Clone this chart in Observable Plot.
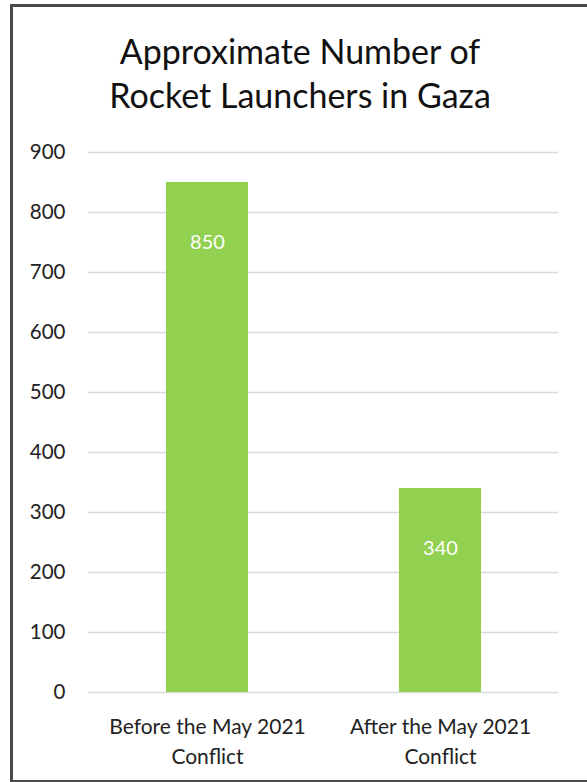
<!DOCTYPE html>
<html><head><meta charset="utf-8">
<script src="https://cdn.jsdelivr.net/npm/d3@7"></script>
<script src="https://cdn.jsdelivr.net/npm/@observablehq/plot@0.6"></script>
<style>
html,body{margin:0;padding:0;background:#fff;width:587px;height:782px;overflow:hidden;}
#frame{position:absolute;left:10px;top:4px;width:590px;height:773px;border:3px solid #4a4a4a;box-sizing:content-box;}
#title{position:absolute;left:0;top:29px;width:600px;text-align:center;font-family:Lato,sans-serif;font-size:34px;line-height:44px;color:#111;}
#chart{position:absolute;left:0;top:130px;}
</style></head>
<body>
<div id="frame"></div>
<div id="title">Approximate Number of<br>Rocket Launchers in Gaza</div>
<div id="chart"></div>
<script>
const categories = ["Before the May 2021\nConflict", "After the May 2021\nConflict"];
const values = [850, 340];
const yTicks = [0, 100, 200, 300, 400, 500, 600, 700, 800, 900];

const data = categories.map((c, i) => ({category: c, value: values[i]}));

const plot = Plot.plot({
  width: 587,
  height: 645,
  marginTop: 22,
  marginBottom: 83,
  marginLeft: 88,
  marginRight: 29,
  style: {fontFamily: "Lato, sans-serif", background: "transparent"},
  x: {domain: categories, paddingInner: 0.65, paddingOuter: 0.33, label: null},
  y: {domain: [0, 900], label: null},
  marks: [
    Plot.gridY(yTicks, {stroke: "#d9d9d9", strokeOpacity: 1, strokeWidth: 1.5}),
    Plot.axisY(yTicks, {tickSize: 0, tickPadding: 23, fontSize: 20.5, fill: "#222", textAnchor: "end", label: null}),
    Plot.axisX({tickSize: 0, tickPadding: 20, fontSize: 21, fill: "#222", lineHeight: 1.43, label: null}),
    Plot.barY(data, {x: "category", y: "value", fill: "#92D050"}),
    Plot.text(data, {x: "category", y: "value", text: d => String(d.value), fill: "#fff", fontSize: 20, dy: 60})
  ]
});
document.getElementById("chart").appendChild(plot);
</script>
</body></html>
